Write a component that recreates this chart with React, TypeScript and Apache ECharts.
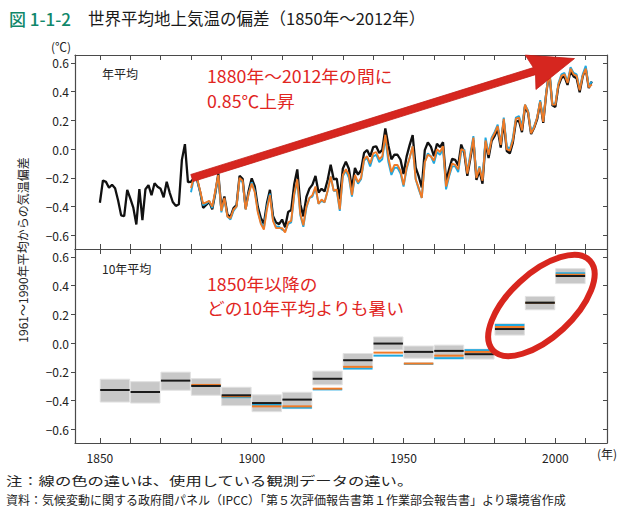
import React, { useEffect, useRef } from "react";
import * as echarts from "echarts";

const FONT = "'Noto Sans CJK JP', 'Noto Sans', sans-serif";

// Annual anomaly (black), from 1850
const blackStart = 1850;
const blackAnnual = [
  -0.373, -0.218, -0.228, -0.269, -0.248, -0.272, -0.358, -0.461, -0.467, -0.284,
  -0.343, -0.407, -0.524, -0.278, -0.494, -0.279, -0.251, -0.321, -0.238, -0.262,
  -0.276, -0.335, -0.227, -0.304, -0.368, -0.395, -0.384, -0.075, 0.035, -0.23,
  -0.227, -0.2, -0.213, -0.296, -0.409, -0.389, -0.367, -0.418, -0.307, -0.171,
  -0.416, -0.33, -0.455, -0.473, -0.41, -0.39, -0.186, -0.206, -0.412, -0.289,
  -0.203, -0.259, -0.402, -0.479, -0.52, -0.377, -0.283, -0.465, -0.511, -0.522,
  -0.49, -0.544, -0.437, -0.424, -0.244, -0.141, -0.383, -0.468, -0.333, -0.275,
  -0.247, -0.187, -0.302, -0.276, -0.294, -0.215, -0.108, -0.21, -0.206, -0.35,
  -0.137, -0.087, -0.137, -0.273, -0.131, -0.178, -0.147, -0.026, -0.006, -0.052,
  0.014, 0.02, -0.027, -0.004, 0.144, 0.025, -0.071, -0.038, -0.039, -0.074,
  -0.173, -0.052, 0.028, 0.097, -0.129, -0.19, -0.267, -0.007, 0.046, 0.017,
  -0.049, 0.038, 0.014, 0.048, -0.223, -0.14, -0.068, -0.074, -0.113, 0.032,
  -0.027, -0.186, -0.065, 0.062, -0.214, -0.149, -0.241, 0.047, -0.062, 0.057,
  0.092, 0.14, 0.011, 0.194, -0.014, -0.03, 0.045, 0.192, 0.198, 0.118,
  0.296, 0.254, 0.105, 0.148, 0.208, 0.325, 0.183, 0.39, 0.539, 0.306,
  0.294, 0.441, 0.496, 0.505, 0.447, 0.545, 0.506, 0.493, 0.395, 0.506,
  0.56, 0.425, 0.47,
];

// Other two observational datasets, from 1880
const colourStart = 1880;
const orangeAnnual = [
  -0.27, -0.19, -0.2, -0.29, -0.38, -0.37, -0.36, -0.4, -0.29, -0.18,
  -0.43, -0.34, -0.47, -0.48, -0.42, -0.4, -0.2, -0.22, -0.42, -0.31,
  -0.24, -0.3, -0.44, -0.52, -0.56, -0.42, -0.32, -0.5, -0.55, -0.55,
  -0.55, -0.58, -0.51, -0.5, -0.31, -0.21, -0.45, -0.53, -0.4, -0.34,
  -0.32, -0.26, -0.38, -0.35, -0.37, -0.29, -0.19, -0.29, -0.28, -0.42,
  -0.18, -0.14, -0.18, -0.32, -0.18, -0.23, -0.2, -0.07, -0.05, -0.1,
  -0.03, -0.02, -0.07, -0.05, 0.1, -0.06, -0.16, -0.11, -0.11, -0.15,
  -0.25, -0.13, -0.06, 0.02, -0.21, -0.27, -0.34, -0.09, -0.04, -0.05,
  -0.08, 0.0, -0.02, 0.02, -0.26, -0.18, -0.1, -0.11, -0.14, 0.0,
  -0.01, -0.17, -0.05, 0.08, -0.2, -0.13, -0.22, 0.06, -0.04, 0.07,
  0.11, 0.16, 0.03, 0.21, 0.0, -0.01, 0.06, 0.21, 0.22, 0.13,
  0.31, 0.26, 0.11, 0.15, 0.22, 0.33, 0.19, 0.39, 0.54, 0.31,
  0.31, 0.45, 0.51, 0.52, 0.46, 0.56, 0.52, 0.51, 0.41, 0.51,
  0.56, 0.43, 0.45,
];
const blueAnnual = [
  -0.3, -0.2, -0.21, -0.3, -0.39, -0.38, -0.36, -0.41, -0.3, -0.19,
  -0.44, -0.35, -0.47, -0.49, -0.43, -0.4, -0.21, -0.23, -0.42, -0.31,
  -0.23, -0.29, -0.43, -0.51, -0.55, -0.4, -0.31, -0.49, -0.54, -0.54,
  -0.56, -0.57, -0.52, -0.51, -0.32, -0.22, -0.46, -0.54, -0.41, -0.34,
  -0.33, -0.27, -0.38, -0.36, -0.37, -0.29, -0.19, -0.29, -0.29, -0.43,
  -0.19, -0.15, -0.2, -0.33, -0.19, -0.24, -0.21, -0.08, -0.06, -0.12,
  -0.05, -0.04, -0.09, -0.07, 0.08, -0.09, -0.18, -0.13, -0.13, -0.17,
  -0.26, -0.14, -0.06, 0.02, -0.21, -0.28, -0.34, -0.09, -0.03, -0.05,
  -0.1, -0.02, -0.04, 0.0, -0.28, -0.19, -0.12, -0.12, -0.16, -0.02,
  0.0, -0.16, -0.03, 0.09, -0.19, -0.12, -0.21, 0.08, -0.03, 0.08,
  0.12, 0.17, 0.04, 0.22, 0.02, 0.0, 0.08, 0.22, 0.23, 0.16,
  0.31, 0.27, 0.12, 0.16, 0.22, 0.34, 0.2, 0.4, 0.55, 0.31,
  0.32, 0.46, 0.52, 0.53, 0.47, 0.57, 0.53, 0.52, 0.42, 0.52,
  0.58, 0.44, 0.47,
];

// Decadal means
const decadeStarts = [1850, 1860, 1870, 1880, 1890, 1900, 1910, 1920, 1930, 1940, 1950, 1960, 1970, 1980, 1990, 2000];
const decBlack = [-0.326, -0.34, -0.261, -0.298, -0.363, -0.417, -0.393, -0.248, -0.119, -0.003, -0.061, -0.054, -0.077, 0.098, 0.281, 0.467];
const decOrange = [null, null, null, -0.291, -0.37, -0.44, -0.44, -0.317, -0.165, -0.066, -0.142, -0.087, -0.061, 0.112, 0.281, 0.476];
const decBlue = [null, null, null, -0.297, -0.376, -0.429, -0.449, -0.322, -0.177, -0.087, -0.144, -0.105, -0.049, 0.126, 0.281, 0.486];
const decLow = [-0.41, -0.417, -0.328, -0.363, -0.435, -0.477, -0.456, -0.29, -0.17, -0.047, -0.105, -0.108, -0.111, 0.056, 0.232, 0.414];
const decHigh = [-0.251, -0.268, -0.202, -0.247, -0.307, -0.36, -0.342, -0.195, -0.072, 0.043, -0.02, -0.014, -0.042, 0.137, 0.325, 0.518];

const tickYears = [1850, 1860, 1870, 1880, 1890, 1900, 1910, 1920, 1930, 1940, 1950, 1960, 1970, 1980, 1990, 2000, 2010];
const labelYears = [1850, 1900, 1950, 2000];
const yTicks = [-0.6, -0.4, -0.2, 0, 0.2, 0.4, 0.6];

const X_MIN = 1841.8;
const X_MAX = 2017;
const Y_MIN = -0.695;
const Y_MAX = 0.655;

const RED = "#e1261f";
const AXIS = "#4a4a4a";

export default function App() {
  const ref = useRef<HTMLDivElement>(null);

  useEffect(() => {
    document.body.style.margin = "0";
    const chart = echarts.init(ref.current!, null, { renderer: "svg" });

    const xAxisDef = (gridIndex: number, position: string, showLabel: boolean) => ({
      type: "value",
      gridIndex,
      position,
      min: X_MIN,
      max: X_MAX,
      axisLine: { show: true, onZero: false, lineStyle: { color: AXIS, width: 1.2 } },
      axisTick: { show: true, inside: true, length: 5, customValues: tickYears, lineStyle: { color: AXIS, width: 1 } },
      axisLabel: showLabel
        ? {
            show: true,
            customValues: labelYears,
            margin: 8,
            color: "#222",
            fontSize: 12,
            fontFamily: FONT,
            formatter: (v: number) => String(Math.round(v)),
          }
        : { show: false },
      splitLine: { show: false },
    });
    const yAxisDef = (gridIndex: number, position: string, showLabel: boolean) => ({
      type: "value",
      gridIndex,
      position,
      min: Y_MIN,
      max: Y_MAX,
      axisLine: { show: true, onZero: false, lineStyle: { color: AXIS, width: 1.2 } },
      axisTick: { show: true, inside: !showLabel, length: 4, customValues: yTicks, lineStyle: { color: AXIS, width: 1 } },
      axisLabel: showLabel
        ? {
            show: true,
            customValues: yTicks,
            margin: 6,
            color: "#222",
            fontSize: 12,
            fontFamily: FONT,
            formatter: (v: number) => (v < -1e-9 ? "−" : "") + Math.abs(v).toFixed(1),
          }
        : { show: false },
      splitLine: { show: false },
    });

    chart.setOption({
      animation: false,
      backgroundColor: "#ffffff",
      grid: [
        { left: 75, top: 55, width: 532, height: 194 },
        { left: 75, top: 249, width: 532, height: 194 },
      ],
      xAxis: [
        xAxisDef(0, "bottom", false),
        xAxisDef(0, "top", false),
        xAxisDef(1, "bottom", true),
        xAxisDef(1, "top", false),
      ],
      yAxis: [
        yAxisDef(0, "left", true),
        yAxisDef(0, "right", false),
        yAxisDef(1, "left", true),
        yAxisDef(1, "right", false),
      ],
      series: [
        {
          type: "line",
          xAxisIndex: 0,
          yAxisIndex: 0,
          data: blackAnnual.map((v, i) => [blackStart + i, v]),
          symbol: "none",
          lineStyle: { color: "#111111", width: 2.3 },
          z: 2,
        },
        {
          type: "line",
          xAxisIndex: 0,
          yAxisIndex: 0,
          data: blueAnnual.map((v, i) => [colourStart + i, v]),
          symbol: "none",
          lineStyle: { color: "#1ea8e0", width: 1.9 },
          z: 3,
        },
        {
          type: "line",
          xAxisIndex: 0,
          yAxisIndex: 0,
          data: orangeAnnual.map((v, i) => [colourStart + i, v]),
          symbol: "none",
          lineStyle: { color: "#f07a26", width: 1.9 },
          z: 4,
        },
        {
          type: "custom",
          xAxisIndex: 2,
          yAxisIndex: 2,
          encode: { x: 0, y: [1, 2] },
          data: decadeStarts.map((d, i) => [d, decLow[i], decHigh[i]]),
          renderItem: (params: any, api: any) => {
            const i = params.dataIndex;
            const x0 = api.value(0);
            const tl = api.coord([x0 + 0.1, api.value(2)]);
            const br = api.coord([x0 + 9.8, api.value(1)]);
            const children: any[] = [
              {
                type: "rect",
                shape: { x: tl[0], y: tl[1], width: br[0] - tl[0], height: br[1] - tl[1] },
                style: { fill: "#c8c8c8", stroke: "#e2e2e2", lineWidth: 1 },
              },
            ];
            const seg = (v: number, color: string) => {
              const a = api.coord([x0 + 0.1, v]);
              const b = api.coord([x0 + 9.8, v]);
              return {
                type: "line",
                shape: { x1: a[0], y1: a[1], x2: b[0], y2: b[1] },
                style: { stroke: color, lineWidth: 2 },
              };
            };
            if (decBlue[i] != null) children.push(seg(decBlue[i] as number, "#1ea8e0"));
            if (decOrange[i] != null) children.push(seg(decOrange[i] as number, "#f07a26"));
            children.push(seg(decBlack[i], "#1a1a1a"));
            return { type: "group", children };
          },
          z: 2,
        },
      ],
    });

    // Annotations
    const tail = chart.convertToPixel({ seriesIndex: 0 }, [1880.3, -0.201]) as number[];
    const tip = chart.convertToPixel({ seriesIndex: 0 }, [2006.3, 0.63]) as number[];
    const dx = tip[0] - tail[0];
    const dy = tip[1] - tail[1];
    const len = Math.sqrt(dx * dx + dy * dy);
    const ux = dx / len;
    const uy = dy / len;
    const nx = -uy;
    const ny = ux;
    const headLen = 42;
    const headHalf = 18;
    const shaftHalf = 3.7;
    const bx = tip[0] - ux * headLen;
    const by = tip[1] - uy * headLen;
    const arrowPts = [
      [tail[0] + nx * shaftHalf, tail[1] + ny * shaftHalf],
      [bx + nx * shaftHalf, by + ny * shaftHalf],
      [bx - ux * 4 + nx * headHalf, by - uy * 4 + ny * headHalf],
      [tip[0], tip[1]],
      [bx - ux * 4 - nx * headHalf, by - uy * 4 - ny * headHalf],
      [bx - nx * shaftHalf, by - ny * shaftHalf],
      [tail[0] - nx * shaftHalf, tail[1] - ny * shaftHalf],
    ];

    const ellC = chart.convertToPixel({ seriesIndex: 3 }, [1995.4, 0.262]) as number[];

    const txt = (text: string, x: number, y: number, size: number, fill: string, extra: any = {}) => ({
      type: "text",
      x,
      y,
      z: 100,
      scaleX: extra.scaleX || 1,
      rotation: extra.rotation || 0,
      style: {
        text,
        fill,
        font: `${extra.weight || "normal"} ${size}px ${FONT}`,
        textAlign: extra.align || "left",
        textVerticalAlign: "middle",
      },
    });

    chart.setOption({
      graphic: [
        txt("図 1-1-2", 9, 18, 17, "#10876a", { weight: 500 }),
        txt("世界平均地上気温の偏差（1850年～2012年）", 88, 18, 16.5, "#1a1a1a"),
        txt("(℃)", 51, 46, 12, "#222"),
        txt("1961～1990年平均からの気温偏差", 22, 250, 12, "#222", { align: "center", rotation: Math.PI / 2 }),
        txt("年平均", 102, 73.5, 12, "#222"),
        txt("10年平均", 102, 268, 12, "#222"),
        txt("1880年～2012年の間に", 207, 76, 16.6, RED, { scaleX: 1.07 }),
        txt("0.85℃上昇", 207, 100.5, 16.6, RED, { scaleX: 1.07 }),
        txt("1850年以降の", 207, 283.5, 16.6, RED, { scaleX: 1.07 }),
        txt("どの10年平均よりも暑い", 207, 308, 16.6, RED, { scaleX: 1.07 }),
        txt("(年)", 597, 453, 12, "#222"),
        txt("注：線の色の違いは、使用している観測データの違い。", 6, 481, 12, "#222", { scaleX: 1.36 }),
        txt("資料：気候変動に関する政府間パネル（IPCC）「第５次評価報告書第１作業部会報告書」より環境省作成", 6, 499, 12, "#222"),
        {
          type: "polygon",
          z: 50,
          shape: { points: arrowPts },
          style: { fill: "#d6261f", stroke: "#c41d17", lineWidth: 0.8 },
        },
        {
          type: "ellipse",
          z: 50,
          x: ellC[0],
          y: ellC[1],
          rotation: 0.745,
          shape: { cx: 0, cy: 0, rx: 66, ry: 32 },
          style: { fill: "none", stroke: "#d8261e", lineWidth: 6 },
        },
      ],
    });

    return () => {
      chart.dispose();
    };
  }, []);

  return <div ref={ref} style={{ width: 627, height: 516 }} />;
}
